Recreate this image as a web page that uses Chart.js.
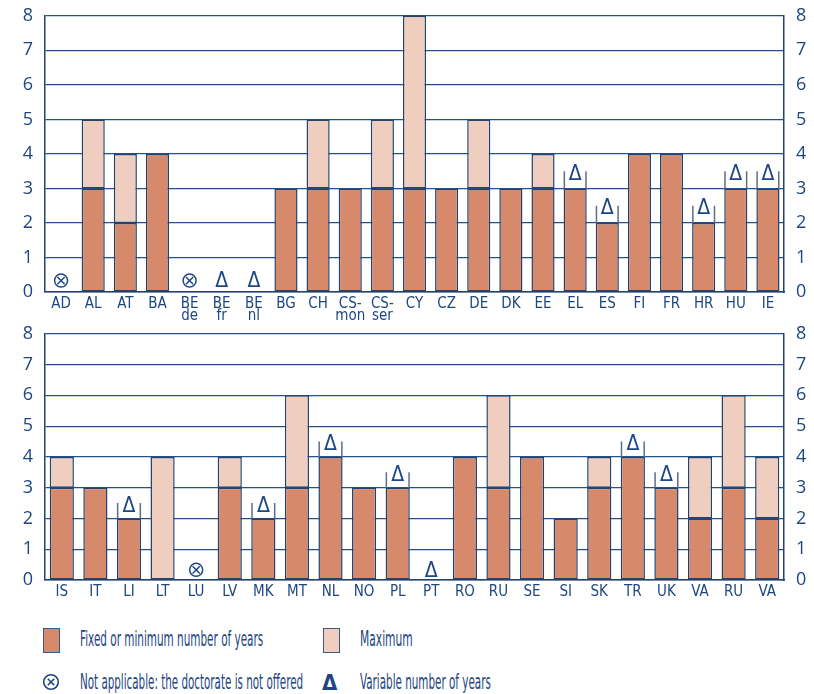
<!DOCTYPE html>
<html><head><meta charset="utf-8">
<script src="https://cdn.jsdelivr.net/npm/chart.js@4.4.1/dist/chart.umd.min.js"></script>
<style>
html,body{margin:0;padding:0;background:#fff;}
#wrap{position:relative;width:814px;height:694px;overflow:hidden;background:#fff;}
.cv{position:absolute;left:0;width:814px;}
#c1box{top:-7px;height:337px;}
#c2box{top:311px;height:301px;}
.lg{position:absolute;font-family:'Liberation Sans Narrow','DejaVu Sans Condensed',sans-serif;font-size:22px;line-height:22px;color:#1d4682;white-space:nowrap;transform-origin:0 0;}
.sw{position:absolute;box-sizing:border-box;border:1px solid #3b5a86;}
</style></head><body>
<div id="wrap">
<div class="cv" id="c1box"><canvas id="c1"></canvas></div>
<div class="cv" id="c2box"><canvas id="c2"></canvas></div>
<div class="sw" style="left:43px;top:628px;width:17px;height:25px;background:#d6896b"></div>
<div class="lg" data-w="183" style="left:80px;top:628px">Fixed or minimum number of years</div>
<div class="sw" style="left:323px;top:628px;width:17px;height:25px;background:#f0cebf"></div>
<div class="lg" data-w="53" style="left:360px;top:628px">Maximum</div>
<svg style="position:absolute;left:42px;top:673px" width="18" height="18" viewBox="0 0 18 18">
<circle cx="9" cy="9" r="7.3" fill="none" stroke="#1d4682" stroke-width="1.6"/>
<line x1="5.8" y1="5.8" x2="12.2" y2="12.2" stroke="#1d4682" stroke-width="1.6"/>
<line x1="12.2" y1="5.8" x2="5.8" y2="12.2" stroke="#1d4682" stroke-width="1.6"/>
</svg>
<div class="lg" data-w="223" style="left:80px;top:671px">Not applicable: the doctorate is not offered</div>
<div class="lg" style="left:322px;top:672px;font-weight:bold">Δ</div>
<div class="lg" data-w="131" style="left:360px;top:671px">Variable number of years</div>
</div>
<script>
// ---- data ----
const CAT_TOP = ['AD','AL','AT','BA',['BE','de'],['BE','fr'],['BE','nl'],'BG','CH',['CS-','mon'],['CS-','ser'],'CY','CZ','DE','DK','EE','EL','ES','FI','FR','HR','HU','IE'];
const MIN_TOP = [null,3,2,4,null,null,null,3,3,3,3,3,3,3,3,3,3,2,4,4,2,3,3];
const MAX_TOP = [null,5,4,4,null,null,null,3,5,3,5,8,3,5,3,4,3,2,4,4,2,3,3];
const FLAG_TOP = ['na','','','','na','var','var','','','','','','','','','','var','var','','','var','var','var'];

const CAT_BOT = ['IS','IT','LI','LT','LU','LV','MK','MT','NL','NO','PL','PT','RO','RU','SE','SI','SK','TR','UK','VA','RU','VA'];
const MIN_BOT = [3,3,2,null,null,3,2,3,4,3,3,null,4,3,4,2,3,4,3,2,3,2];
const MAX_BOT = [4,3,2,4,null,4,2,6,4,3,3,null,4,6,4,2,4,4,3,4,6,4];
const FLAG_BOT = ['','','var','','na','','var','','var','','var','var','','','','','','var','var','','',''];

const Y_MIN = 0, Y_MAX = 8, Y_STEP = 1;

// ---- styles ----
const DARK = '#d6896b', LIGHT = '#f0cebf', NAVY = '#1d4682', BORDER = '#23426f', GRID = '#27508a';
const NARROW = "'Liberation Sans Narrow','DejaVu Sans Condensed',sans-serif";
const BAR_PCT = 0.72;

function extra(mins, maxs){
  return maxs.map((m,i)=>{
    if(m==null) return null;
    const d = m - (mins[i]||0);
    return d>0 ? d : null;
  });
}

function markerPlugin(mins, maxs, flags){
  return {
    id:'markers',
    afterDatasetsDraw(chart){
      const ctx = chart.ctx, xs = chart.scales.x, ys = chart.scales.y;
      const unit = ys.getPixelForValue(0) - ys.getPixelForValue(1);
      const bw = xs.width / xs.getLabels().length * BAR_PCT;
      flags.forEach((f,i)=>{
        if(!f) return;
        const x = xs.getPixelForValue(i);
        const top = (maxs[i] ?? mins[i] ?? 0);
        const yTop = ys.getPixelForValue(top);
        ctx.save();
        ctx.strokeStyle = NAVY; ctx.fillStyle = NAVY;
        if(f==='na'){
          const cy = yTop - 0.33*unit, r = 6.5, k = 3.6;
          ctx.lineWidth = 1.5;
          ctx.beginPath(); ctx.arc(x, cy, r, 0, Math.PI*2); ctx.stroke();
          ctx.beginPath();
          ctx.moveTo(x-k, cy-k); ctx.lineTo(x+k, cy+k);
          ctx.moveTo(x+k, cy-k); ctx.lineTo(x-k, cy+k);
          ctx.stroke();
        } else {
          let cy;
          if(top>0){
            ctx.strokeStyle = '#5d6d8a'; ctx.lineWidth = 1.5;
            const yb = yTop - 0.5*unit;
            ctx.beginPath();
            ctx.moveTo(x-bw/2+0.75, yTop); ctx.lineTo(x-bw/2+0.75, yb);
            ctx.moveTo(x+bw/2-0.75, yTop); ctx.lineTo(x+bw/2-0.75, yb);
            ctx.stroke();
            cy = yTop - 0.47*unit;
          } else {
            cy = yTop - 0.35*unit;
          }
          ctx.font = "21px " + NARROW;
          ctx.textAlign = 'center'; ctx.textBaseline = 'alphabetic';
          ctx.fillText('Δ', x, cy + 0.358*21);
        }
        ctx.restore();
      });
    }
  };
}

function makeChart(id, cats, mins, maxs, flags, padTop, xH){
  return new Chart(document.getElementById(id), {
    type:'bar',
    data:{
      labels: cats,
      datasets:[
        {label:'Fixed or minimum number of years', data: mins, backgroundColor: DARK, borderColor: BORDER, borderWidth: 1.5, borderSkipped:false, stack:'s', barPercentage: BAR_PCT, categoryPercentage: 1},
        {label:'Maximum', data: extra(mins, maxs), backgroundColor: LIGHT, borderColor: BORDER, borderWidth: 1.5, borderSkipped:false, stack:'s', barPercentage: BAR_PCT, categoryPercentage: 1}
      ]
    },
    options:{
      responsive:true, maintainAspectRatio:false, animation:false,
      layout:{padding:{top:padTop, left:0, right:0, bottom:0}},
      plugins:{legend:{display:false}, tooltip:{enabled:false}},
      scales:{
        x:{
          stacked:true,
          grid:{display:false, drawTicks:false},
          border:{display:true, color:BORDER, width:1.5},
          ticks:{color:NAVY, padding:6, autoSkip:false, maxRotation:0, font:{family:NARROW, size:15, lineHeight:0.82}},
          afterFit(s){ s.height = xH; }
        },
        y:{
          stacked:true, min:Y_MIN, max:Y_MAX,
          grid:{color:GRID, lineWidth:1.2, drawTicks:false},
          border:{display:true, color:BORDER, width:1.5},
          ticks:{stepSize:Y_STEP, color:NAVY, padding:12, font:{family:"'Open Sans',sans-serif", size:18}},
          afterFit(s){ s.width = 45; }
        },
        y2:{
          position:'right', min:Y_MIN, max:Y_MAX,
          grid:{display:false, drawTicks:false},
          border:{display:true, color:BORDER, width:1.5},
          ticks:{stepSize:Y_STEP, color:NAVY, padding:12, font:{family:"'Open Sans',sans-serif", size:18}},
          afterFit(s){ s.width = 30; }
        }
      }
    },
    plugins:[markerPlugin(mins, maxs, flags)]
  });
}

makeChart('c1', CAT_TOP, MIN_TOP, MAX_TOP, FLAG_TOP, 8, 38);
makeChart('c2', CAT_BOT, MIN_BOT, MAX_BOT, FLAG_BOT, 8, 32);

document.querySelectorAll('.lg[data-w]').forEach(el=>{
  const w = +el.dataset.w, ow = el.offsetWidth;
  if(ow>0) el.style.transform = 'scaleX(' + (w/ow) + ')';
});
</script>
</body></html>
